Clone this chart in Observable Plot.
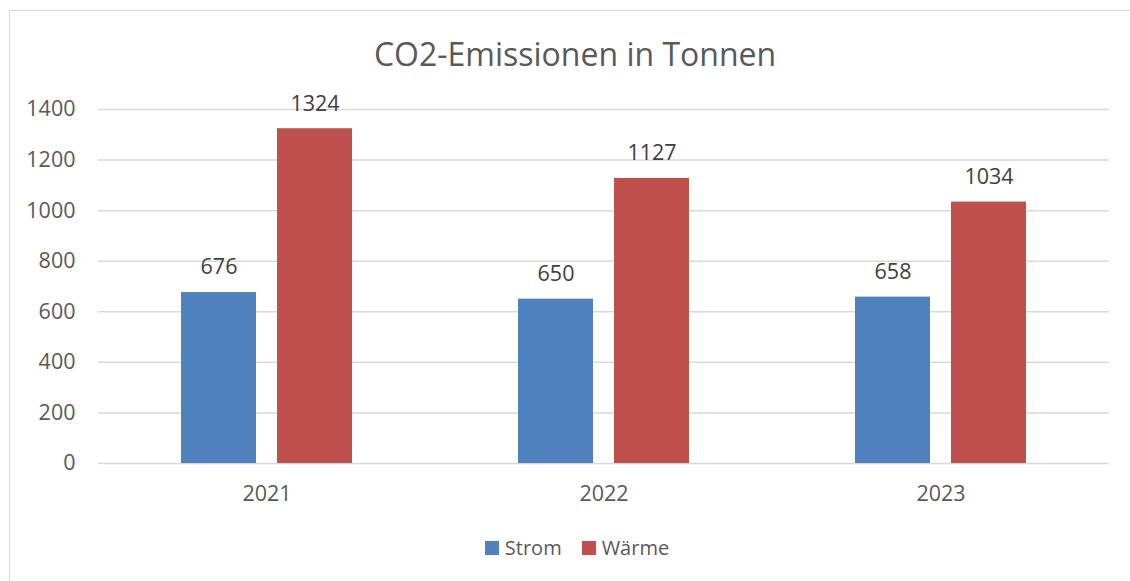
<!DOCTYPE html>
<html><head><meta charset="utf-8">
<script src="https://cdn.jsdelivr.net/npm/d3@7"></script>
<script src="https://cdn.jsdelivr.net/npm/@observablehq/plot@0.6"></script>
<style>
html,body{margin:0;padding:0;background:#fff;overflow:hidden;}
#stage{position:relative;width:1130px;height:581px;overflow:hidden;font-family:"Open Sans",sans-serif;color:#595959;}
#frame{position:absolute;left:9px;top:10px;width:1140px;height:600px;border:1px solid #d9d9d9;box-sizing:border-box;}
#title{position:absolute;left:9px;width:1132px;top:32px;text-align:center;font-size:32px;line-height:normal;color:#595959;white-space:nowrap;}
#chart{position:absolute;left:0;top:0;}
#legend{position:absolute;left:9px;width:1136px;top:531px;}
.lg-swatches{font-family:"Open Sans",sans-serif !important;font-size:20px !important;color:#595959 !important;justify-content:center !important;min-height:33px !important;margin:0 !important;}
.lg-swatch{margin-right:20px !important;}
.lg-swatch:last-child{margin-right:0 !important;}
.lg-swatch > svg{margin-right:6px !important;}
</style>
</head><body>
<div id="stage">
  <div id="frame"></div>
  <div id="chart"></div>
  <div id="title">CO2-Emissionen in Tonnen</div>
  <div id="legend"></div>
</div>
<script>
const years = ["2021", "2022", "2023"];
const series = ["Strom", "Wärme"];
const strom = [676, 650, 658];
const waerme = [1324, 1127, 1034];
const colors = ["#4F81BD", "#C0504D"];
const yTicks = [0, 200, 400, 600, 800, 1000, 1200, 1400];

const data = years.flatMap((y, i) => [
  {year: y, series: series[0], value: strom[i]},
  {year: y, series: series[1], value: waerme[i]}
]);

const chart = Plot.plot({
  width: 1130,
  height: 520,
  marginLeft: 97,
  marginRight: 20,
  marginTop: 109,
  marginBottom: 57,
  style: {fontFamily: "Open Sans", fontSize: "21.5px", color: "#595959", background: "transparent", overflow: "visible"},
  fx: {domain: years, padding: 0, axis: "bottom", label: null, tickSize: 0, tickPadding: 22},
  x: {domain: series, paddingInner: 0.2165, paddingOuter: 0.849, axis: null},
  y: {domain: [0, 1400], ticks: yTicks, tickSize: 0, tickPadding: 23, label: null, tickFormat: "d"},
  color: {domain: series, range: colors},
  marks: [
    Plot.ruleY(yTicks, {stroke: "#d9d9d9", strokeWidth: 1.5}),
    Plot.barY(data, {fx: "year", x: "series", y: "value", fill: "series", inset: 0}),
    Plot.text(data, {fx: "year", x: "series", y: "value", text: d => String(d.value), dy: -25, fill: "#404040"})
  ]
});
document.getElementById("chart").appendChild(chart);

const legend = Plot.legend({
  color: {domain: series, range: colors},
  swatchSize: 14,
  className: "lg"
});
document.getElementById("legend").appendChild(legend);
</script>
</body></html>
